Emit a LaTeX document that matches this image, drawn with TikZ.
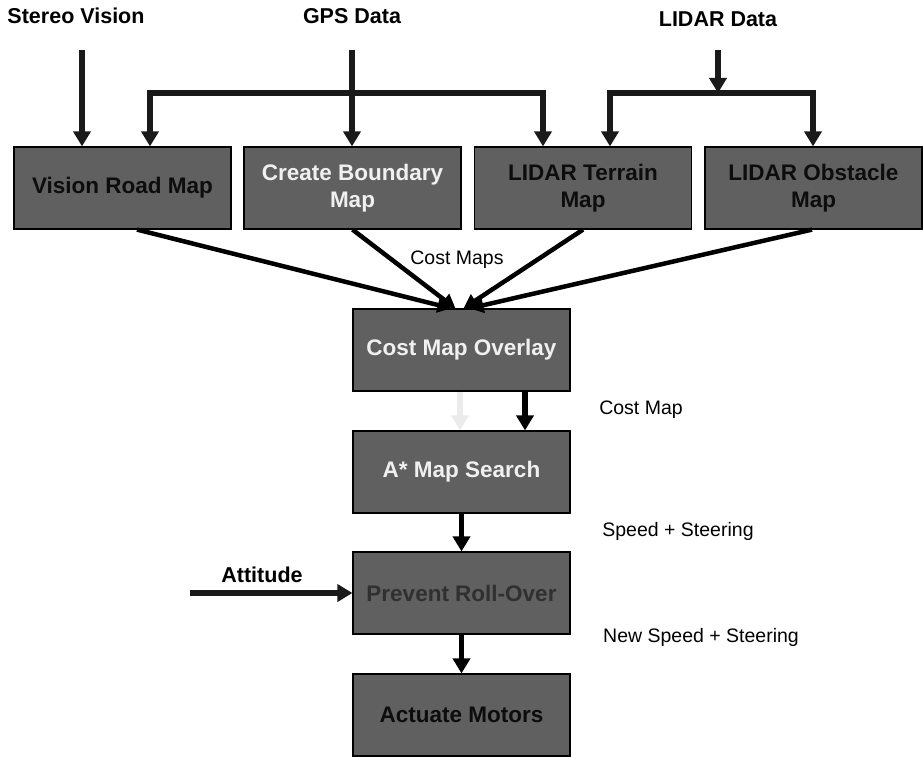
\documentclass[tikz,border=0pt]{standalone}
\usepackage{fontspec}
\setmainfont{Liberation Sans}
\usetikzlibrary{arrows.meta}
\definecolor{boxfill}{HTML}{606060}
\definecolor{wirecol}{HTML}{1A1A1A}
\definecolor{lighttext}{HTML}{F0F0F0}
\definecolor{midtext}{HTML}{303030}
\definecolor{ghost}{HTML}{EBEBEB}
\tikzset{
  stage/.style={draw=black, line width=1.2pt, fill=boxfill, minimum width=217pt,
    minimum height=82pt, inner sep=0pt, align=center, font=\fontsize{22.5}{27}\selectfont\bfseries},
  source/.style={inner sep=0pt, font=\fontsize{21.5}{26}\selectfont\bfseries},
  note/.style={inner sep=0pt, font=\fontsize{19.5}{23}\selectfont},
  arr/.style={draw=wirecol, line width=5.5pt, -{Triangle[width=17pt,length=15pt]}},
  fork/.style={draw=wirecol, line width=5.5pt, miter limit=10,
    {Triangle[width=17pt,length=15pt]}-{Triangle[width=17pt,length=15pt]}},
  feed/.style={draw=black, line width=4.5pt, -{Triangle[width=15pt,length=14pt]}}
}
\begin{document}
\begin{tikzpicture}[x=1pt,y=-1pt]
\useasboundingbox (0,0) rectangle (923,757);

% processing stages
\node[stage, text=black!95]   (vrm) at (122.5,188) {Vision Road Map};
\node[stage, text=lighttext]  (cbm) at (352.5,188) {Create Boundary\\Map};
\node[stage, text=black!95]   (ltm) at (583,188)   {LIDAR Terrain\\Map};
\node[stage, text=black!95]   (lom) at (813.5,188) {LIDAR Obstacle\\Map};
\node[stage, text=lighttext]  (cmo) at (461.5,350) {Cost Map Overlay};
\node[stage, text=lighttext]  (ams) at (461.5,472) {A* Map Search};
\node[stage, text=midtext]    (pro) at (461.5,593) {Prevent Roll-Over};
\node[stage, text=black!95]   (act) at (461.5,715) {Actuate Motors};

% sensor inputs
\node[source] (sv)   at (76,16)  {Stereo Vision};
\node[source] (gps)  at (352,16) {GPS Data};
\node[source] (ldr)  at (718,19) {LIDAR Data};
\node[source] (att)  at (262,575) {Attitude};

% labels on the data flow
\node[note] (lcm)  at (457,260) {Cost Maps};
\node[note] (lc1)  at (641,410) {Cost Map};
\node[note] (lss)  at (678,531) {Speed + Steering};
\node[note] (lns)  at (701,637) {New Speed + Steering};

% free ends of the input arrows
\coordinate (svin)  at (82,50);
\coordinate (gpsin) at (352,50);
\coordinate (ldin)  at (718,50);
\coordinate (gl)    at (150,93);
\coordinate (gr)    at (543,93);
\coordinate (ll)    at (610,93);
\coordinate (lr)    at (813,93);
\coordinate (attin) at (190,593);

% inputs into the top row
\draw[arr] (svin) -- (svin |- vrm.north);
\draw[fork] (gl |- vrm.north) -- (gl) -- (gr) -- (gr |- ltm.north);
\draw[arr] (gpsin) -- (gpsin |- cbm.north);
\draw[fork] (ll |- ltm.north) -- (ll) -- (lr) -- (lr |- lom.north);
\draw[arr] (ldin) -- (ldin |- ll);

% cost maps into the overlay
\draw[feed] ([xshift=14.5pt]vrm.south) -- ([xshift=-10pt]cmo.north);
\draw[feed] (cbm.south) -- ([xshift=-6pt]cmo.north);
\draw[feed] (ltm.south) -- ([xshift=2pt]cmo.north);
\draw[feed] ([xshift=-1.5pt]lom.south) -- ([xshift=8pt]cmo.north);

% overlay to search
\draw[arr, draw=ghost] ([xshift=-1.5pt]cmo.south) -- ([xshift=-1.5pt]ams.north);
\draw[arr, draw=black] ([xshift=63.5pt]cmo.south) -- ([xshift=63.5pt]ams.north);

% lower chain
\draw[arr, draw=black] (ams) -- (pro);
\draw[arr] (attin) -- (pro.west);
\draw[arr, draw=black] (pro) -- (act);
\end{tikzpicture}
\end{document}
